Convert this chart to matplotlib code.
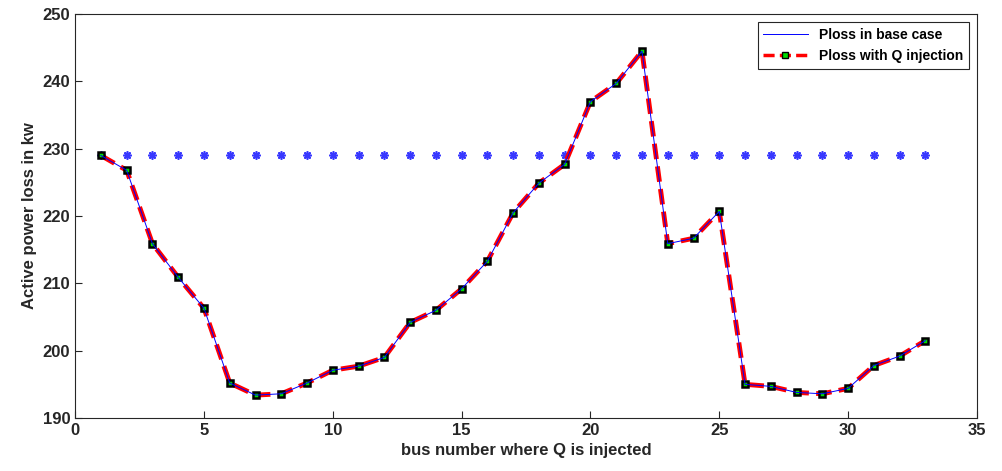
import matplotlib
matplotlib.use("Agg")
import matplotlib.pyplot as plt
from matplotlib.lines import Line2D

plt.rcParams['font.family'] = ['Liberation Sans', 'DejaVu Sans']

# bus numbers and losses
buses = list(range(1, 34))
ploss_q = [229.0, 226.8, 215.9, 210.9, 206.3, 195.2, 193.4, 193.6, 195.2, 197.1,
           197.7, 199.0, 204.2, 206.0, 209.2, 213.3, 220.5, 224.9, 227.7, 237.0,
           239.7, 244.5, 215.9, 216.7, 220.7, 195.0, 194.7, 193.8, 193.6, 194.4,
           197.8, 199.2, 201.5]
ploss_base = [229.0] * 33

fig = plt.figure(figsize=(10.02, 4.71), dpi=100)
ax = fig.add_axes([0.075, 0.1125, 0.9, 0.8575])

ax.plot(buses, ploss_base, linestyle='none', marker=(8, 2, 0), color='#3838ff',
        markersize=6, markeredgewidth=1.2)
ax.plot(buses, ploss_q, color='red', linestyle=(0, (3.2, 1.5)), linewidth=3.5,
        marker='s', markersize=5, markerfacecolor='#00dd00', markeredgecolor='black',
        markeredgewidth=1.8)
ax.plot(buses, ploss_q, color='blue', linewidth=0.7)

ax.set_xlim(0, 35)
ax.set_ylim(190, 250)
ax.set_xticks(range(0, 36, 5))
ax.set_yticks(range(190, 251, 10))
ax.tick_params(direction='in', length=5, labelsize=12, colors='#262626', width=0.8)
for lab in ax.get_xticklabels() + ax.get_yticklabels():
    lab.set_fontweight('bold')
for s in ax.spines.values():
    s.set_color('#262626')
    s.set_linewidth(0.8)

ax.set_xlabel('bus number where Q is injected', fontsize=12, fontweight='bold', color='#262626')
ax.set_ylabel('Active power loss in kw', fontsize=12, fontweight='bold', color='#262626')

handles = [
    Line2D([], [], color='blue', linewidth=0.7),
    Line2D([], [], color='red', linestyle=(0, (3.2, 1.5)), linewidth=2.5, marker='s',
           markersize=5, markerfacecolor='#00dd00', markeredgecolor='black'),
]
leg = ax.legend(handles, ['Ploss in base case', 'Ploss with Q injection'],
                loc='upper right', fancybox=False, edgecolor='#262626',
                prop={'weight': 'bold', 'size': 10}, handlelength=3.2,
                borderaxespad=0.6, framealpha=1)
leg.get_frame().set_linewidth(0.8)

fig.savefig('out.png', dpi=100)
